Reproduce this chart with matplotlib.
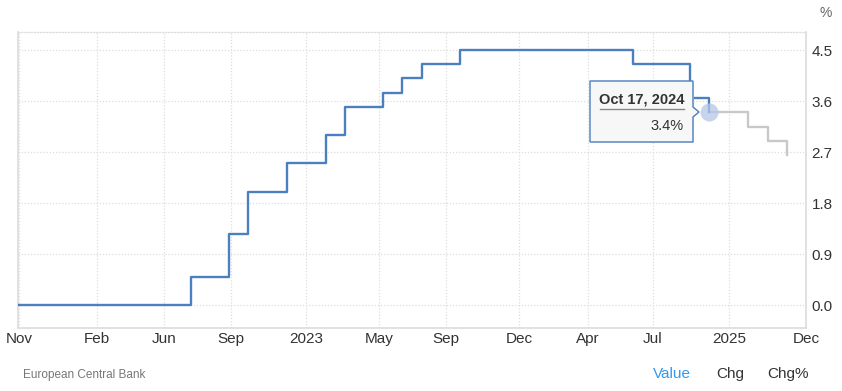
import matplotlib.pyplot as plt
from matplotlib.patches import Polygon

plt.rcParams['font.family'] = ['Liberation Sans', 'DejaVu Sans']

# posiciones en el eje temporal (ordinal) y tasas
tick_pos = [19, 97, 164, 231, 306, 379, 446, 519, 588, 653, 729, 806]
tick_lbl = ['Nov', 'Feb', 'Jun', 'Sep', '2023', 'May', 'Sep', 'Dec', 'Apr', 'Jul', '2025', 'Dec']

fecha_x = [18, 191, 229, 248, 287, 326, 345, 383, 402, 422, 460, 633, 690, 709]
tasa = [0.0, 0.5, 1.25, 2.0, 2.5, 3.0, 3.5, 3.75, 4.0, 4.25, 4.5, 4.25, 3.65, 3.4]

pron_x = [709, 748, 768, 787]
pron = [3.4, 3.15, 2.9, 2.65]

y_ticks = [0.0, 0.9, 1.8, 2.7, 3.6, 4.5]

W, H = 842, 391
fig = plt.figure(figsize=(W / 100, H / 100), dpi=100)
ax = fig.add_axes([18 / W, 1 - 328 / H, (806 - 18) / W, (328 - 32) / H])

ax.plot(fecha_x, tasa, drawstyle='steps-post', color='#4a7fc0', lw=1.7, zorder=3)
ax.plot(pron_x, pron, drawstyle='steps-post', color='#c8c8c8', lw=1.7, zorder=2)
ax.plot(fecha_x[-1], tasa[-1], 'o', ms=13, color='#b4c8e6', alpha=0.75, mec='none', zorder=4)

ax.set_xlim(18, 806)
ax.set_ylim(-0.406, 4.82)
ax.set_xticks(tick_pos)
ax.set_xticklabels(tick_lbl)
ax.set_yticks(y_ticks)
ax.set_yticklabels(["{:.1f}".format(v) for v in y_ticks])
ax.yaxis.tick_right()
ax.tick_params(axis='both', length=0, labelsize=11, labelcolor='#333333')
ax.tick_params(axis='x', pad=3)
ax.tick_params(axis='y', pad=4)
ax.grid(color='#dddddd', lw=0.9, ls=(0, (1, 1.5)))
ax.set_axisbelow(True)

for s in ['left', 'bottom', 'right']:
    ax.spines[s].set_color('#dcdcdc')
    ax.spines[s].set_linewidth(1.2)
ax.spines['top'].set_color('#dddddd')
ax.spines['top'].set_linestyle((0, (1, 1.5)))
ax.spines['top'].set_linewidth(0.9)


def px(x, y):
    return (x / W, 1 - y / H)


# tooltip
sombra = Polygon([px(592, 83), px(694, 83), px(694, 143), px(592, 143)],
                 closed=True, transform=fig.transFigure, fc='#ececec', ec='none', zorder=5)
caja = Polygon([px(590, 81), px(693, 81), px(693, 107), px(699, 112), px(693, 117),
                px(693, 142), px(590, 142)],
               closed=True, transform=fig.transFigure, fc='#f7f7f7', ec='#4a7fc0', lw=1, zorder=6)
fig.patches.extend([sombra, caja])
fig.text(*px(641.5, 99), "Oct 17, 2024", ha='center', va='center', fontsize=10.5,
         fontweight='bold', color='#333333', zorder=7)
fig.lines.append(plt.Line2D([600 / W, 684 / W], [1 - 109 / H, 1 - 109 / H],
                            transform=fig.transFigure, color='#888888', lw=1, zorder=7))
fig.text(*px(684, 126), "3.4%", ha='right', va='center', fontsize=10.5, color='#333333', zorder=7)

# textos
fig.text(*px(826, 13), "%", ha='center', va='center', fontsize=10, color='#666666')
fig.text(*px(23, 375), "European Central Bank", ha='left', va='center', fontsize=8.5, color='#777777')
fig.text(*px(653, 374), "Value", ha='left', va='center', fontsize=11, color='#3399ee')
fig.text(*px(716, 374), "Chg", ha='left', va='center', fontsize=11, color='#333333')
fig.text(*px(767, 374), "Chg%", ha='left', va='center', fontsize=11, color='#333333')

fig.savefig('out.png', dpi=100)
